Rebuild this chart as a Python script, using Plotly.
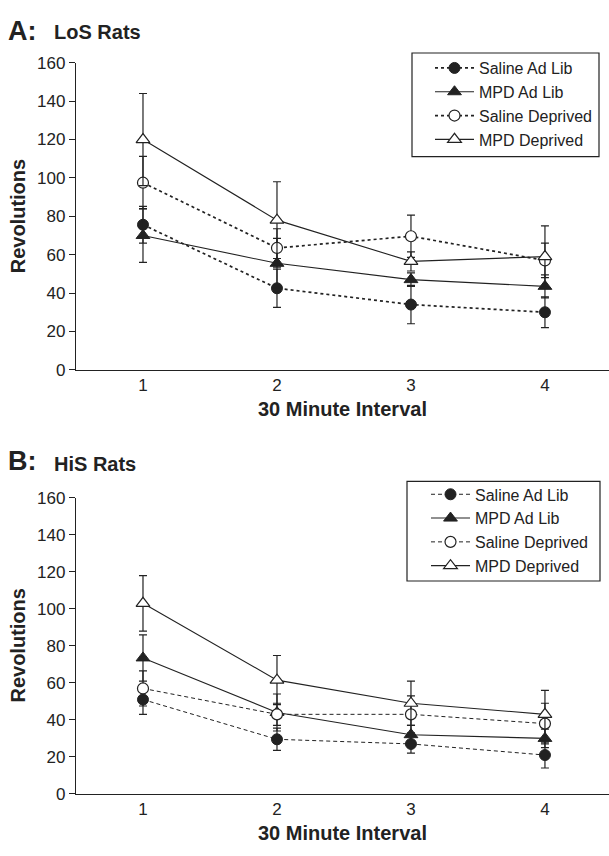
import plotly.graph_objects as go

# ---------------- data ----------------
intervals = [1, 2, 3, 4]
series_names = ["Saline Ad Lib", "MPD Ad Lib", "Saline Deprived", "MPD Deprived"]

# Panel A: LoS rats
los_saline_adlib = [75.6, 42.5, 34.0, 30.0]
los_saline_adlib_err = [9.6, 10.0, 10.0, 8.0]
los_mpd_adlib = [70.0, 55.5, 47.0, 43.5]
los_mpd_adlib_err = [14.0, 13.0, 3.5, 6.0]
los_saline_dep = [97.5, 63.5, 69.6, 57.0]
los_saline_dep_err = [13.7, 10.0, 11.0, 9.0]
los_mpd_dep = [120.0, 78.0, 56.5, 59.0]
los_mpd_dep_err = [24.0, 20.0, 5.0, 16.0]

# Panel B: HiS rats
his_saline_adlib = [51.0, 29.5, 27.0, 21.0]
his_saline_adlib_err = [8.0, 6.0, 5.0, 7.0]
his_mpd_adlib = [73.5, 44.0, 32.0, 30.0]
his_mpd_adlib_err = [12.5, 10.0, 5.0, 5.0]
his_saline_dep = [57.0, 43.0, 43.0, 38.0]
his_saline_dep_err = [9.5, 6.0, 10.0, 11.0]
his_mpd_dep = [103.0, 61.5, 49.0, 43.0]
his_mpd_dep_err = [15.0, 13.3, 12.0, 13.0]

y_ticks = [0, 20, 40, 60, 80, 100, 120, 140, 160]

# ---------------- styling ----------------
W, H = 609, 856
FONT = "Liberation Sans, Arial, sans-serif"
INK = "#222222"
L = 76  # left margin px

def py(pix):
    return 1 - pix / H

def px(pix):
    return (pix - L) / (W - L)

marker_styles = [
    dict(symbol="circle", color=INK, size=11, line=dict(color=INK, width=1)),
    dict(symbol="triangle-up", color=INK, size=12, line=dict(color=INK, width=1)),
    dict(symbol="circle", color="white", size=11, line=dict(color=INK, width=1.2)),
    dict(symbol="triangle-up", color="white", size=12, line=dict(color=INK, width=1.2)),
]

fig = go.Figure()

def add_panel(values, errors, xaxis, yaxis, legend, saline_dash, saline_width):
    for i, (name, v, e) in enumerate(zip(series_names, values, errors)):
        saline = i in (0, 2)
        fig.add_trace(go.Scatter(
            x=intervals, y=v, name=name, mode="lines+markers",
            xaxis=xaxis, yaxis=yaxis, legend=legend,
            legendgroup=legend + str(i),
            line=dict(color=INK, width=saline_width if saline else 1.1,
                      dash=saline_dash if saline else "solid"),
            marker=marker_styles[i],
            error_y=dict(type="data", array=e, visible=True, color=INK,
                         thickness=1.2, width=4),
        ))

add_panel([los_saline_adlib, los_mpd_adlib, los_saline_dep, los_mpd_dep],
          [los_saline_adlib_err, los_mpd_adlib_err, los_saline_dep_err, los_mpd_dep_err],
          "x", "y", "legend", "dot", 1.7)
add_panel([his_saline_adlib, his_mpd_adlib, his_saline_dep, his_mpd_dep],
          [his_saline_adlib_err, his_mpd_adlib_err, his_saline_dep_err, his_mpd_dep_err],
          "x2", "y2", "legend2", "4px,3px", 1.0)

xcommon = dict(range=[0.5, 4.478], tickvals=intervals, ticks="", showline=True,
               linecolor=INK, linewidth=1.3, showgrid=False, zeroline=False,
               tickfont=dict(family=FONT, size=17, color=INK), fixedrange=True)
ycommon = dict(range=[0, 160], tickvals=y_ticks, ticks="outside", ticklen=6,
               tickcolor=INK, tickwidth=1.2, showline=True, linecolor=INK,
               linewidth=1.3, showgrid=False, zeroline=False,
               tickfont=dict(family=FONT, size=17, color=INK))

legend_common = dict(bgcolor="rgba(0,0,0,0)", borderwidth=0,
                     font=dict(family=FONT, size=16, color=INK),
                     traceorder="grouped", tracegroupgap=0, itemwidth=39,
                     xanchor="left", yanchor="top")

fig.update_layout(
    width=W, height=H,
    margin=dict(l=L, r=0, t=0, b=0),
    paper_bgcolor="white", plot_bgcolor="white",
    xaxis=dict(domain=[0, 1], anchor="y", **xcommon),
    yaxis=dict(domain=[py(369), py(55)], anchor="x", **ycommon),
    xaxis2=dict(domain=[0, 1], anchor="y2", **xcommon),
    yaxis2=dict(domain=[py(802.7), py(500)], anchor="x2", **ycommon),
    legend=dict(x=px(430), y=py(43), **legend_common),
    legend2=dict(x=px(426), y=py(479), **legend_common),
    showlegend=True,
)

# legend frames
shapes = []
for (x0, y0, x1, y1) in [(412, 45, 599, 151), (407, 483, 600, 585)]:
    shapes.append(dict(type="rect", xref="paper", yref="paper",
                       x0=px(x0), x1=px(x1), y0=py(y1), y1=py(y0),
                       line=dict(color=INK, width=1.2), fillcolor="white",
                       layer="below"))
fig.update_layout(shapes=shapes)

ann = []
def text(t, xpix, ypix, size, angle=0, xanchor="left"):
    ann.append(dict(text=t, x=px(xpix), y=py(ypix), xref="paper", yref="paper",
                    xanchor=xanchor, yanchor="middle", showarrow=False,
                    textangle=angle, font=dict(family=FONT, size=size, color=INK)))

text("<b>A:</b>", 6, 22, 27)
text("<b>LoS Rats</b>", 52, 24, 20)
text("<b>B:</b>", 6, 462, 27)
text("<b>HiS Rats</b>", 52, 465, 20)
text("<b>Revolutions</b>", 18, 212, 20, angle=-90, xanchor="center")
text("<b>Revolutions</b>", 18, 651, 20, angle=-90, xanchor="center")
text("<b>30 Minute Interval</b>", 342, 409, 20, xanchor="center")
text("<b>30 Minute Interval</b>", 342, 843, 20, xanchor="center")
fig.update_layout(annotations=ann)

fig.write_html("out.html")
